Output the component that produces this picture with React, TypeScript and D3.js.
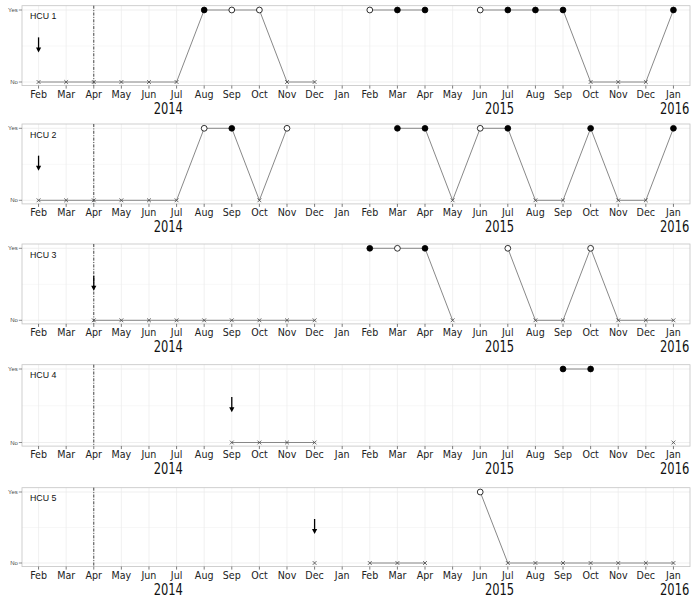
import React from "react";
import * as d3 from "d3";

// ---- data ----
const months = [
  "Feb 2014", "Mar 2014", "Apr 2014", "May 2014", "Jun 2014", "Jul 2014",
  "Aug 2014", "Sep 2014", "Oct 2014", "Nov 2014", "Dec 2014", "Jan 2015",
  "Feb 2015", "Mar 2015", "Apr 2015", "May 2015", "Jun 2015", "Jul 2015",
  "Aug 2015", "Sep 2015", "Oct 2015", "Nov 2015", "Dec 2015", "Jan 2016",
];
const years = ["2014", "2015", "2016"];
// fractional month index where each year label is centred
const yearLabelAt = [4.7, 16.7, 23.05];
const yLabels = ["No", "Yes"];
const hcuNames = ["HCU 1", "HCU 2", "HCU 3", "HCU 4", "HCU 5"];
// N = No (cross), O = Yes (open circle), F = Yes (filled circle), null = missing
type C = "N" | "O" | "F" | null;
const hcu1: C[] = ["N","N","N","N","N","N","F","O","O","N","N",null,"O","F","F",null,"O","F","F","F","N","N","N","F"];
const hcu2: C[] = ["N","N","N","N","N","N","O","F","N","O",null,null,null,"F","F","N","O","F","N","N","F","N","N","F"];
const hcu3: C[] = [null,null,"N","N","N","N","N","N","N","N","N",null,"F","O","F","N",null,"O","N","N","O","N","N","N"];
const hcu4: C[] = [null,null,null,null,null,null,null,"N","N","N","N",null,null,null,null,null,null,null,null,"F","F",null,null,"N"];
const hcu5: C[] = [null,null,null,null,null,null,null,null,null,null,"N",null,"N","N","N",null,"O","N","N","N","N","N","N","N"];
const series = [hcu1, hcu2, hcu3, hcu4, hcu5];
const arrowMonth = ["Feb 2014", "Feb 2014", "Apr 2014", "Sep 2014", "Dec 2014"];
const refMonth = "Apr 2014";
const arrowFrom = 0.62;
const arrowTo = 0.41;

// ---- layout ----
const W = 691;
const H = 597;
const panelLeft = 22;
const panelRight = 690;
const panelYesNo: [number, number][] = [
  [10, 82],
  [128.3, 200.3],
  [248.3, 320.3],
  [369, 442.5],
  [492, 563],
];

const cond = "'DejaVu Sans Condensed', 'Liberation Sans', sans-serif";

const x = d3.scalePoint<string>().domain(months).range([panelLeft, panelRight]).padding(0.6);
const step = x.step();
const xi = (i: number) => (x(months[0]) as number) + i * step;

function Panel({ idx }: { idx: number }) {
  const [yYes, yNo] = panelYesNo[idx];
  const y = d3.scaleLinear().domain([0, 1]).range([yNo, yYes]);
  const top = yYes - 4.3;
  const bottom = yNo + 3.6;
  const data = series[idx];
  const pts = data.map((c, i) => ({ c, m: months[i] }));
  const line = d3
    .line<{ c: C; m: string }>()
    .defined((d) => d.c !== null)
    .x((d) => x(d.m) as number)
    .y((d) => y(d.c === "N" ? 0 : 1));
  const ax = x(arrowMonth[idx]) as number;
  const a0 = y(arrowFrom);
  const a1 = y(arrowTo);
  const rx = x(refMonth) as number;
  return (
    <g>
      <rect x={panelLeft} y={top} width={panelRight - panelLeft} height={bottom - top} fill="#fff" />
      {[0.5].map((v) => (
        <line key={"mg" + v} x1={panelLeft} x2={panelRight} y1={y(v)} y2={y(v)} stroke="#f2f2f2" strokeWidth={0.6} />
      ))}
      {months.map((m) => (
        <line key={"vg" + m} x1={x(m)} x2={x(m)} y1={top} y2={bottom} stroke="#ebebeb" strokeWidth={0.7} />
      ))}
      {[0, 1].map((v) => (
        <line key={"hg" + v} x1={panelLeft} x2={panelRight} y1={y(v)} y2={y(v)} stroke="#ebebeb" strokeWidth={0.8} />
      ))}
      <rect x={panelLeft} y={top} width={panelRight - panelLeft} height={bottom - top} fill="none" stroke="#c4c4c4" strokeWidth={0.8} />
      {/* y axis */}
      {[0, 1].map((v) => (
        <g key={"yt" + v}>
          <line x1={panelLeft - 3.2} x2={panelLeft} y1={y(v)} y2={y(v)} stroke="#444" strokeWidth={0.6} />
          <text x={panelLeft - 4.2} y={y(v)} dy="0.35em" textAnchor="end" fontSize={6} fill="#4d4d4d" fontFamily="'Liberation Sans', Arial, sans-serif">
            {yLabels[v]}
          </text>
        </g>
      ))}
      {/* x axis */}
      {months.map((m) => (
        <g key={"xt" + m}>
          <line x1={x(m)} x2={x(m)} y1={bottom} y2={bottom + 3} stroke="#444" strokeWidth={0.7} />
          <text x={x(m)} y={bottom + 12.3} textAnchor="middle" fontSize={10.6} fill="#222" fontFamily={cond}>
            {m.split(" ")[0]}
          </text>
        </g>
      ))}
      {years.map((yr, i) => {
        const last = i === years.length - 1;
        const cx = xi(yearLabelAt[i]);
        const px = last ? Math.min(cx + 14.5, W - 1) : cx;
        return (
          <text
            key={yr}
            transform={`translate(${px},${bottom + 28.3}) scale(1,1.25)`}
            textAnchor={last ? "end" : "middle"}
            fontSize={12.8}
            fill="#111"
            fontFamily={cond}
          >
            {yr}
          </text>
        );
      })}
      {/* reference line */}
      <line x1={rx} x2={rx} y1={top} y2={bottom} stroke="#333" strokeWidth={0.9} strokeDasharray="3,1.4,1,1.4" />
      {/* label */}
      <text x={panelLeft + 8} y={top + 13.5} fontSize={8.8} fill="#111" fontFamily="'Liberation Sans', Arial, sans-serif">
        {hcuNames[idx]}
      </text>
      {/* arrow */}
      <line x1={ax} x2={ax} y1={a0} y2={a1 - 4} stroke="#000" strokeWidth={1.3} />
      <path d={`M${ax - 2.6},${a1 - 5} L${ax + 2.6},${a1 - 5} L${ax},${a1} Z`} fill="#000" />
      {/* series line */}
      <path d={line(pts) || ""} fill="none" stroke="#7a7a7a" strokeWidth={0.9} />
      {/* markers */}
      {pts.map((p) => {
        if (p.c === null) return null;
        const px = x(p.m) as number;
        if (p.c === "N") {
          const py = y(0);
          const s = 1.9;
          return (
            <path key={"mk" + p.m} d={`M${px - s},${py - s}L${px + s},${py + s}M${px - s},${py + s}L${px + s},${py - s}`} stroke="#444" strokeWidth={0.8} fill="none" />
          );
        }
        return (
          <circle key={"mk" + p.m} cx={px} cy={y(1)} r={2.9} fill={p.c === "F" ? "#000" : "#fff"} stroke="#000" strokeWidth={0.8} />
        );
      })}
    </g>
  );
}

export default function App() {
  return (
    <svg width={W} height={H} style={{ position: "absolute", left: 0, top: 0, background: "#fff" }}>
      <rect width={W} height={H} fill="#fff" />
      {hcuNames.map((_, i) => (
        <Panel key={i} idx={i} />
      ))}
    </svg>
  );
}
